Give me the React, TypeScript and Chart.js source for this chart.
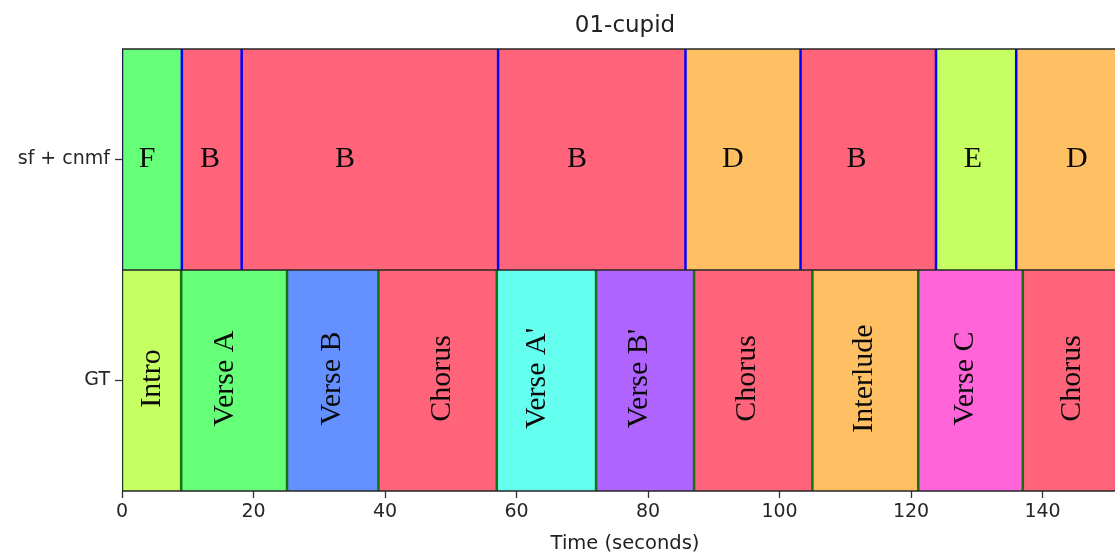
import { useEffect, useRef } from "react";
import { Chart, registerables } from "chart.js";

Chart.register(...registerables);

// Two annotation rows: automatic segmentation (top) and ground truth (bottom)
const rows = ["sf + cnmf", "GT"];

const cnmfLabels = ["F", "B", "B", "B", "D", "B", "E", "D"];
const cnmfBounds = [0, 9.1, 18.2, 57.2, 85.7, 103.2, 123.8, 136.0, 153];
const cnmfLabelTimes = [3.8, 13.4, 33.9, 69.2, 92.9, 111.7, 129.4, 145.2];

const gtLabels = [
  "Intro",
  "Verse A",
  "Verse B",
  "Chorus",
  "Verse A'",
  "Verse B'",
  "Chorus",
  "Interlude",
  "Verse C",
  "Chorus",
];
const gtBounds = [0, 9.0, 25.1, 39.0, 57.0, 72.1, 87.0, 105.0, 121.1, 137.0, 153];
const gtLabelTimes = [4.3, 15.4, 31.7, 48.4, 62.8, 78.4, 94.8, 112.5, 127.9, 144.2];

const xTicksStep = 20;
const xMax = 153;

const RED = "#ff647a";
const GREEN = "#66ff78";
const ORANGE = "#ffc064";
const LIME = "#c6ff62";
const BLUE = "#6491ff";
const CYAN = "#64ffee";
const PURPLE = "#af64ff";
const MAGENTA = "#ff64d9";

const segmentColors: Record<string, string> = {
  F: GREEN,
  B: RED,
  D: ORANGE,
  E: LIME,
  Intro: LIME,
  "Verse A": GREEN,
  "Verse B": BLUE,
  Chorus: RED,
  "Verse A'": CYAN,
  "Verse B'": PURPLE,
  Interlude: ORANGE,
  "Verse C": MAGENTA,
};

const segments = (row: string, labels: string[], bounds: number[]) =>
  labels.map((_, i) => ({ y: row, x: [bounds[i], bounds[i + 1]] }));

const SANS = '"DejaVu Sans", sans-serif';
const SERIF = '"Liberation Serif", "DejaVu Serif", serif';

const overlay = {
  id: "segmentOverlay",
  afterDatasetsDraw(chart: any) {
    const { ctx, chartArea, scales } = chart;
    const xs = scales.x;
    const ys = scales.y;
    const { left, right, top, bottom } = chartArea;
    const mid = (ys.getPixelForValue(0) + ys.getPixelForValue(1)) / 2;

    ctx.save();
    ctx.beginPath();
    ctx.rect(left, top - 2, right - left + 2, bottom - top + 4);
    ctx.clip();

    // segment boundaries
    ctx.lineWidth = 2.5;
    ctx.strokeStyle = "#0000ff";
    cnmfBounds.forEach((b) => {
      const px = xs.getPixelForValue(b);
      ctx.beginPath();
      ctx.moveTo(px, top);
      ctx.lineTo(px, mid);
      ctx.stroke();
    });
    ctx.strokeStyle = "#137313";
    gtBounds.forEach((b) => {
      const px = xs.getPixelForValue(b);
      ctx.beginPath();
      ctx.moveTo(px, mid);
      ctx.lineTo(px, bottom);
      ctx.stroke();
    });

    // frame and row divider
    ctx.strokeStyle = "#262626";
    ctx.lineWidth = 1.6;
    ctx.beginPath();
    ctx.moveTo(left, top);
    ctx.lineTo(right, top);
    ctx.moveTo(left, mid);
    ctx.lineTo(right, mid);
    ctx.moveTo(left, bottom);
    ctx.lineTo(right, bottom);
    ctx.moveTo(left, top);
    ctx.lineTo(left, bottom);
    ctx.moveTo(right, top);
    ctx.lineTo(right, bottom);
    ctx.stroke();
    ctx.restore();

    // segment names
    ctx.save();
    ctx.fillStyle = "#0a0a0a";
    ctx.font = `30px ${SERIF}`;
    ctx.textAlign = "center";
    ctx.textBaseline = "alphabetic";
    const yTop = ys.getPixelForValue(0);
    cnmfLabels.forEach((l, i) => {
      ctx.fillText(l, xs.getPixelForValue(cnmfLabelTimes[i]), yTop + 7);
    });
    const yGt = ys.getPixelForValue(1);
    gtLabels.forEach((l, i) => {
      ctx.save();
      ctx.translate(xs.getPixelForValue(gtLabelTimes[i]) + 10, yGt - 2);
      ctx.rotate(-Math.PI / 2);
      ctx.fillText(l, 0, 0);
      ctx.restore();
    });
    ctx.restore();

    // title and axis label
    ctx.save();
    ctx.fillStyle = "#222";
    ctx.textAlign = "center";
    ctx.textBaseline = "alphabetic";
    const cx = (left + right) / 2;
    ctx.font = `23px ${SANS}`;
    ctx.fillText("01-cupid", cx, 32);
    ctx.font = `19.5px ${SANS}`;
    ctx.fillText("Time (seconds)", cx, 549);
    ctx.restore();
  },
};

export default function App() {
  const canvasRef = useRef<HTMLCanvasElement | null>(null);

  useEffect(() => {
    document.body.style.margin = "0";
    const canvas = canvasRef.current;
    if (!canvas) return;

    const chart = new Chart(canvas, {
      type: "bar",
      data: {
        labels: rows,
        datasets: [
          {
            label: rows[0],
            data: segments(rows[0], cnmfLabels, cnmfBounds) as any,
            backgroundColor: cnmfLabels.map((l) => segmentColors[l]),
            borderWidth: 0,
            grouped: false,
            barPercentage: 1,
            categoryPercentage: 1,
          },
          {
            label: rows[1],
            data: segments(rows[1], gtLabels, gtBounds) as any,
            backgroundColor: gtLabels.map((l) => segmentColors[l]),
            borderWidth: 0,
            grouped: false,
            barPercentage: 1,
            categoryPercentage: 1,
          },
        ],
      },
      options: {
        indexAxis: "y",
        responsive: true,
        maintainAspectRatio: false,
        animation: false,
        layout: { padding: { top: 49, right: 2, left: 0, bottom: 0 } },
        plugins: {
          legend: { display: false },
          tooltip: { enabled: false },
          title: { display: false },
        },
        scales: {
          x: {
            type: "linear",
            min: 0,
            max: xMax,
            border: { display: false },
            grid: {
              drawOnChartArea: false,
              drawTicks: true,
              tickLength: 7,
              color: "#333",
              tickWidth: 1.3,
            },
            ticks: {
              stepSize: xTicksStep,
              includeBounds: false,
              maxRotation: 0,
              padding: 3,
              color: "#262626",
              font: { family: SANS, size: 19 },
            },
            afterFit: (s: any) => {
              s.height = 64;
            },
          },
          y: {
            type: "category",
            border: { display: false },
            grid: {
              offset: false,
              drawOnChartArea: false,
              drawTicks: true,
              tickLength: 7,
              color: "#333",
              tickWidth: 1.3,
            },
            ticks: {
              padding: 5,
              color: "#262626",
              font: { family: SANS, size: 19 },
            },
            afterFit: (s: any) => {
              s.width = 122;
            },
          },
        },
      },
      plugins: [overlay],
    });

    return () => chart.destroy();
  }, []);

  return (
    <div style={{ width: 1115, height: 555, overflow: "hidden", position: "relative" }}>
      <div style={{ width: 1130, height: 555, position: "absolute", left: 0, top: 0 }}>
        <canvas ref={canvasRef} />
      </div>
    </div>
  );
}
